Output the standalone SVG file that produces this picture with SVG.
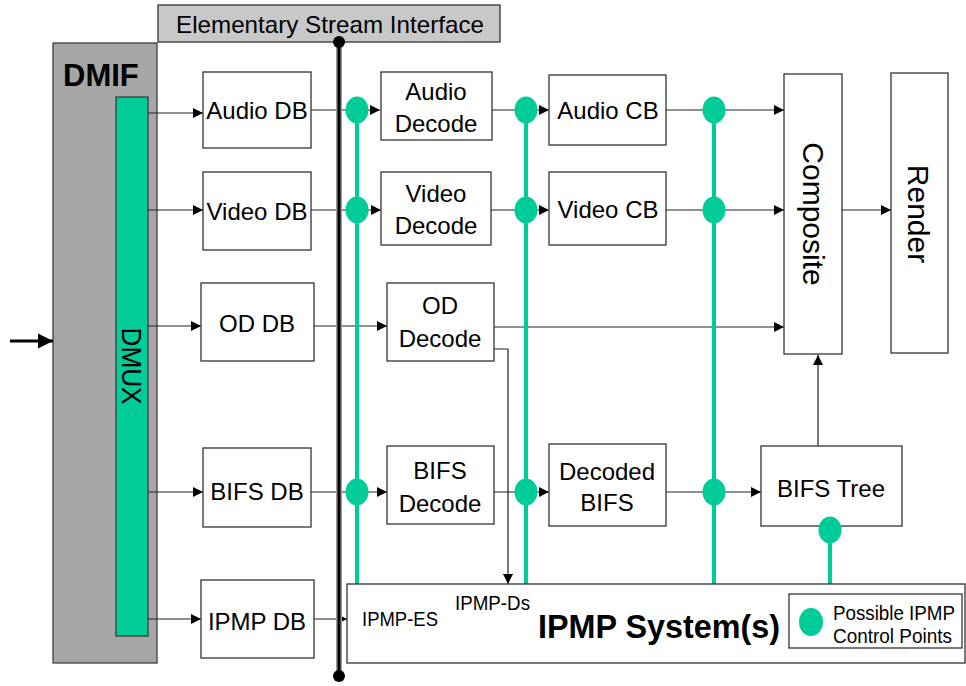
<svg xmlns="http://www.w3.org/2000/svg" width="966" height="686" viewBox="0 0 966 686">
<defs>
<style>
.box{fill:#fff;stroke:#333;stroke-width:1.3}
.t{font-family:"Liberation Sans",Arial,sans-serif;font-size:24px;fill:#000;text-anchor:middle}
.s{font-family:"Liberation Sans",Arial,sans-serif;fill:#000}
.ln{stroke:#222;stroke-width:1.2;fill:none}
.g{stroke:#00cc99;stroke-width:4;fill:none}
.dot{fill:#00cc99}
</style>
<marker id="arr" viewBox="0 0 10 10" refX="10" refY="5" markerWidth="10" markerHeight="10" markerUnits="userSpaceOnUse" orient="auto"><path d="M0,0 L10,5 L0,10 z" fill="#000"/></marker>
<marker id="arrBig" viewBox="0 0 10 10" refX="10" refY="5" markerWidth="15" markerHeight="16" markerUnits="userSpaceOnUse" orient="auto"><path d="M0,0 L10,5 L0,10 z" fill="#000"/></marker>
</defs>
<rect width="966" height="686" fill="#fff"/>

<g id="esi">
<rect x="158" y="5" width="342" height="37" fill="#c8c8c8" stroke="#333" stroke-width="1.3"/>
<text class="t" x="330" y="33" textLength="308" lengthAdjust="spacingAndGlyphs">Elementary Stream Interface</text>
</g>

<g id="dmif">
<rect x="53" y="43" width="104" height="620" fill="#a6a6a6" stroke="#333" stroke-width="1.2"/>
<text class="s" x="63" y="86" style="font-size:31px;font-weight:bold">DMIF</text>
</g>
<g id="dmux">
<rect x="116" y="97" width="32" height="539" fill="#00cc99" stroke="#333" stroke-width="1.2"/>
<text class="t" transform="translate(122,366) rotate(90)" style="font-size:27px" textLength="77" lengthAdjust="spacingAndGlyphs">DMUX</text>
</g>

<g id="connectors">
<line x1="10" y1="341" x2="53" y2="341" stroke="#000" stroke-width="3" marker-end="url(#arrBig)"/>
<line class="ln" x1="148" y1="113" x2="203" y2="113" marker-end="url(#arr)"/>
<line class="ln" x1="148" y1="210" x2="203" y2="210" marker-end="url(#arr)"/>
<line class="ln" x1="148" y1="326" x2="201" y2="326" marker-end="url(#arr)"/>
<line class="ln" x1="148" y1="492" x2="203" y2="492" marker-end="url(#arr)"/>
<line class="ln" x1="148" y1="619" x2="201" y2="619" marker-end="url(#arr)"/>
<line class="ln" x1="311" y1="110" x2="380" y2="110" marker-end="url(#arr)"/>
<line class="ln" x1="311" y1="210" x2="381" y2="210" marker-end="url(#arr)"/>
<line class="ln" x1="314" y1="326" x2="387" y2="326" marker-end="url(#arr)"/>
<line class="ln" x1="311" y1="492" x2="387" y2="492" marker-end="url(#arr)"/>
<line class="ln" x1="314" y1="619" x2="347" y2="619" marker-end="url(#arr)"/>
<line class="ln" x1="492" y1="110" x2="549" y2="110" marker-end="url(#arr)"/>
<line class="ln" x1="491" y1="210" x2="549" y2="210" marker-end="url(#arr)"/>
<line class="ln" x1="494" y1="492" x2="549" y2="492" marker-end="url(#arr)"/>
<line class="ln" x1="666" y1="110" x2="784" y2="110" marker-end="url(#arr)"/>
<line class="ln" x1="666" y1="210" x2="784" y2="210" marker-end="url(#arr)"/>
<line class="ln" x1="494" y1="327" x2="784" y2="327" marker-end="url(#arr)"/>
<line class="ln" x1="666" y1="492" x2="761" y2="492" marker-end="url(#arr)"/>
<line class="ln" x1="842" y1="210" x2="891" y2="210" marker-end="url(#arr)"/>
<line class="ln" x1="818" y1="446" x2="818" y2="355" marker-end="url(#arr)"/>
<polyline class="ln" points="494,349 508,349 508,584" marker-end="url(#arr)"/>
<line x1="339" y1="42" x2="339" y2="676" stroke="#9a9a9a" stroke-width="6"/>
<line x1="339" y1="42" x2="339" y2="676" stroke="#000" stroke-width="3"/>
<circle cx="339" cy="42" r="6" fill="#000"/>
<circle cx="339" cy="676" r="6" fill="#000"/>
<line class="g" x1="357" y1="110" x2="357" y2="584"/>
<line class="g" x1="526" y1="110" x2="526" y2="584"/>
<line class="g" x1="714" y1="110" x2="714" y2="584"/>
<line class="g" x1="830" y1="530" x2="830" y2="584"/>
<ellipse class="dot" cx="357" cy="110" rx="11.5" ry="13.5"/>
<ellipse class="dot" cx="357" cy="210" rx="11.5" ry="13.5"/>
<ellipse class="dot" cx="357" cy="492" rx="11.5" ry="13.5"/>
<ellipse class="dot" cx="526" cy="110" rx="11.5" ry="13.5"/>
<ellipse class="dot" cx="526" cy="210" rx="11.5" ry="13.5"/>
<ellipse class="dot" cx="526" cy="492" rx="11.5" ry="13.5"/>
<ellipse class="dot" cx="714" cy="110" rx="11.5" ry="13.5"/>
<ellipse class="dot" cx="714" cy="210" rx="11.5" ry="13.5"/>
<ellipse class="dot" cx="714" cy="492" rx="11.5" ry="13.5"/>
</g>

<g id="audio-db"><rect class="box" x="203" y="72" width="108" height="76"/><text class="t" x="257" y="119">Audio DB</text></g>
<g id="video-db"><rect class="box" x="203" y="172" width="108" height="78"/><text class="t" x="257" y="220">Video DB</text></g>
<g id="od-db"><rect class="box" x="201" y="283" width="113" height="78"/><text class="t" x="257" y="332">OD DB</text></g>
<g id="bifs-db"><rect class="box" x="203" y="448" width="108" height="79"/><text class="t" x="257" y="500">BIFS DB</text></g>
<g id="ipmp-db"><rect class="box" x="201" y="580" width="113" height="78"/><text class="t" x="257" y="630">IPMP DB</text></g>

<g id="audio-decode"><rect class="box" x="381" y="72" width="111" height="68"/><text class="t" x="436" y="100">Audio</text><text class="t" x="436" y="132">Decode</text></g>
<g id="video-decode"><rect class="box" x="381" y="172" width="110" height="73"/><text class="t" x="436" y="202">Video</text><text class="t" x="436" y="234">Decode</text></g>
<g id="od-decode"><rect class="box" x="387" y="283" width="107" height="78"/><text class="t" x="440" y="314">OD</text><text class="t" x="440" y="347">Decode</text></g>
<g id="bifs-decode"><rect class="box" x="387" y="446" width="107" height="78"/><text class="t" x="440" y="479">BIFS</text><text class="t" x="440" y="512">Decode</text></g>

<g id="audio-cb"><rect class="box" x="549" y="75" width="117" height="70"/><text class="t" x="608" y="119">Audio CB</text></g>
<g id="video-cb"><rect class="box" x="549" y="172" width="117" height="73"/><text class="t" x="608" y="218">Video CB</text></g>
<g id="decoded-bifs"><rect class="box" x="549" y="444" width="117" height="82"/><text class="t" x="607" y="480">Decoded</text><text class="t" x="607" y="511">BIFS</text></g>

<g id="composite"><rect class="box" x="784" y="74" width="58" height="280"/><text class="t" transform="translate(803,214) rotate(90)" style="font-size:30px">Composite</text></g>
<g id="render"><rect class="box" x="891" y="73" width="57" height="280"/><text class="t" transform="translate(908,214) rotate(90)" style="font-size:30px">Render</text></g>
<g id="bifs-tree"><rect class="box" x="761" y="446" width="141" height="80"/><text class="t" x="831" y="497">BIFS Tree</text></g>
<g id="bifs-tree-dot"><ellipse class="dot" cx="830" cy="530" rx="11.5" ry="13.5"/></g>

<g id="ipmp-system">
<rect class="box" x="347" y="584" width="618" height="79"/>
<text class="s" x="362" y="626" style="font-size:20px" textLength="76" lengthAdjust="spacingAndGlyphs">IPMP-ES</text>
<text class="s" x="455" y="610" style="font-size:20px" textLength="75" lengthAdjust="spacingAndGlyphs">IPMP-Ds</text>
<text class="s" x="538" y="638" style="font-size:34px;font-weight:bold" textLength="242" lengthAdjust="spacingAndGlyphs">IPMP System(s)</text>
</g>
<g id="legend">
<rect class="box" x="789" y="594" width="173" height="54"/>
<ellipse class="dot" cx="811" cy="622" rx="12" ry="14"/>
<text class="s" x="833" y="620" style="font-size:20px" textLength="122" lengthAdjust="spacingAndGlyphs">Possible IPMP</text>
<text class="s" x="833" y="643" style="font-size:20px" textLength="119" lengthAdjust="spacingAndGlyphs">Control Points</text>
</g>
</svg>
